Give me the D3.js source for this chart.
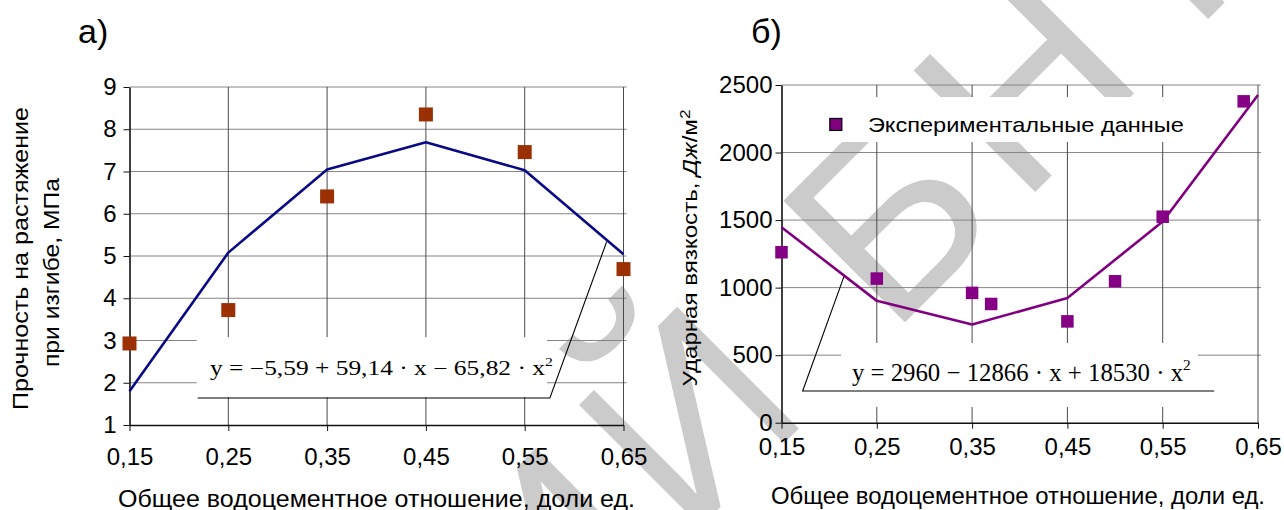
<!DOCTYPE html>
<html>
<head>
<meta charset="utf-8">
<script src="https://cdn.jsdelivr.net/npm/d3@7"></script>
<style>
  body { margin: 0; background: #fff; }
  text { font-family: "Liberation Sans", Arial, sans-serif; fill: #000; }
  .eq { font-family: "Liberation Serif", "Times New Roman", serif; }
</style>
</head>
<body>
<script>
var width = 1284,
    height = 510;

// x values (water-cement ratio) shared by both panels
var xTicks = [0.15, 0.25, 0.35, 0.45, 0.55, 0.65];

// panel а) flexural tensile strength, MPa
var strengthTicks = [1, 2, 3, 4, 5, 6, 7, 8, 9];
var strengthX = [0.15, 0.25, 0.35, 0.45, 0.55, 0.65];
var strengthExp = [2.93, 3.72, 6.41, 8.35, 7.46, 4.69];
var strengthFit = [1.80, 5.08, 7.05, 7.69, 7.03, 5.04];

// panel б) impact toughness, J/m2
var toughTicks = [0, 500, 1000, 1500, 2000, 2500];
var toughX = [0.15, 0.25, 0.35, 0.37, 0.45, 0.50, 0.55, 0.635];
var toughExp = [1262, 1067, 961, 879, 750, 1047, 1525, 2379];
var toughFitX = [0.15, 0.25, 0.35, 0.45, 0.55, 0.65];
var toughFit = [1447, 902, 727, 923, 1489, 2426];

var svg = d3.select("body").append("svg")
    .attr("width", width)
    .attr("height", height);

var fmtX = function(d) { return d3.format(".2f")(d).replace(".", ","); };

// watermark of the repository, sits behind everything
var wmSize = 250, wmAngle = -45;
var wm = svg.append("text")
    .attr("font-size", wmSize)
    .attr("letter-spacing", 20)
    .style("fill", "#cbcbcb")
    .text("РЕПОЗИТОРИЙ БНТУ");
(function() {
  var node = wm.node(),
      str = "РЕПОЗИТОРИЙ БНТУ",
      i = str.indexOf("Б"),
      px = node.getSubStringLength(0, i) + (node.getSubStringLength(i, 1) - 20) / 2,
      py = -0.36 * wmSize,
      a = wmAngle * Math.PI / 180,
      tx = 885 - (px * Math.cos(a) - py * Math.sin(a)),
      ty = 215 - (px * Math.sin(a) + py * Math.cos(a));
  wm.attr("transform", "translate(" + tx + "," + ty + ")rotate(" + wmAngle + ")");
})();

function panel(cfg) {
  var g = svg.append("g");
  var x = d3.scaleLinear().domain([0.15, 0.65]).range(cfg.xr),
      y = d3.scaleLinear().domain(cfg.yd).range(cfg.yr);

  // grid
  g.selectAll(".hgrid")
      .data(cfg.yTicks.slice(1))
    .enter().append("line")
      .attr("x1", x(0.15)).attr("x2", x(0.65) + 3)
      .attr("y1", y).attr("y2", y)
      .style("stroke", "#858585").style("stroke-width", 1);
  g.selectAll(".vgrid")
      .data(xTicks.slice(1))
    .enter().append("line")
      .attr("x1", x).attr("x2", x)
      .attr("y1", y(cfg.yd[1])).attr("y2", y(cfg.yd[0]))
      .style("stroke", "#4a4a4a").style("stroke-width", 1);

  // white boxes over the grid (equation, legend)
  cfg.boxes.forEach(function(b) {
    g.append("rect")
        .attr("x", x(b[0])).attr("y", y(b[3]))
        .attr("width", x(b[1]) - x(b[0]))
        .attr("height", y(b[2]) - y(b[3]))
        .style("fill", "#fff");
  });

  // axes
  var ax = g.append("g")
      .attr("transform", "translate(0," + y(cfg.yd[0]) + ")")
      .call(d3.axisBottom(x).tickValues(xTicks).tickFormat(fmtX)
        .tickSize(6).tickSizeOuter(0).tickPadding(cfg.xPad));
  var ay = g.append("g")
      .attr("transform", "translate(" + x(0.15) + ",0)")
      .call(d3.axisLeft(y).tickValues(cfg.yTicks).tickFormat(d3.format("d"))
        .tickSize(6).tickSizeOuter(0).tickPadding(cfg.yPad));
  [ax, ay].forEach(function(a) {
    a.select(".domain").style("stroke", "#111").style("stroke-width", 1.6);
    a.selectAll(".tick line").style("stroke", "#111");
    a.selectAll(".tick text")
        .style("font-family", "Liberation Sans, Arial, sans-serif")
        .style("font-size", "24px").style("fill", "#000");
  });

  // fitted curve
  g.append("path")
      .datum(cfg.fitX.map(function(d, i) { return [d, cfg.fitY[i]]; }))
      .attr("d", d3.line().x(function(d) { return x(d[0]); }).y(function(d) { return y(d[1]); }))
      .style("fill", "none")
      .style("stroke", cfg.lineColor)
      .style("stroke-width", 2.6)
      .style("stroke-linejoin", "round");

  // experimental points
  g.selectAll(".pt")
      .data(cfg.expX.map(function(d, i) { return [d, cfg.expY[i]]; }))
    .enter().append("rect")
      .attr("x", function(d) { return x(d[0]) - cfg.ms / 2; })
      .attr("y", function(d) { return y(d[1]) - cfg.ms / 2; })
      .attr("width", cfg.ms).attr("height", cfg.ms)
      .style("fill", cfg.markColor);

  // equation with its underline and leader line
  var e = cfg.eq,
      uy = y(e.under[2]),
      x0 = x(e.under[0]), x1 = x(e.under[1]),
      lx = x(e.lead[0]), ly = y(e.lead[1]);
  var d = e.leadFromLeft
      ? "M" + lx + "," + ly + "L" + x0 + "," + uy + "H" + x1
      : "M" + x0 + "," + uy + "H" + x1 + "L" + lx + "," + ly;
  g.append("path")
      .attr("d", d)
      .style("fill", "none").style("stroke", "#000").style("stroke-width", 1.1);
  var t = g.append("text")
      .attr("class", "eq")
      .attr("x", x(e.x0)).attr("y", y(e.base))
      .attr("font-size", e.size)
      .attr("textLength", x(e.x1) - x(e.x0))
      .attr("lengthAdjust", "spacingAndGlyphs");
  t.append("tspan").text(e.text);
  t.append("tspan").attr("dy", -e.size * 0.45).attr("font-size", e.size * 0.62).text("2");

  return {x: x, y: y, g: g};
}

// panel а)
var pa = panel({
  xr: [129.5, 623.5], yd: [1, 9], yr: [425, 87],
  yTicks: strengthTicks, xPad: 17, yPad: 7,
  fitX: strengthX, fitY: strengthFit, expX: strengthX, expY: strengthExp,
  lineColor: "#0a0a86", markColor: "#9c3005", ms: 14,
  boxes: [[0.218, 0.5725, 1.66, 3.08]],
  eq: {
    text: "y = −5,59 + 59,14 · x − 65,82 · x",
    x0: 0.2315, x1: 0.5785, base: 2.18, size: 20,
    under: [0.219, 0.5755, 1.64], lead: [0.633, 5.34], leadFromLeft: false
  }
});

// panel б)
var pb = panel({
  xr: [781.5, 1258], yd: [0, 2500], yr: [422.7, 85],
  yTicks: toughTicks, xPad: 9, yPad: 3,
  fitX: toughFitX, fitY: toughFit, expX: toughX, expY: toughExp,
  lineColor: "#800080", markColor: "#850085", ms: 12.5,
  boxes: [[0.2124, 0.5868, 116, 590], [0.185, 0.589, 2078, 2411]],
  eq: {
    text: "y = 2960 − 12866 · x + 18530 · x",
    x0: 0.2239, x1: 0.5794, base: 309, size: 25,
    under: [0.1722, 0.604, 235], lead: [0.2155, 1081], leadFromLeft: true
  }
});

// legend of panel б)
pb.g.append("rect")
    .attr("x", pb.x(0.207) - 6).attr("y", pb.y(2208) - 6)
    .attr("width", 12).attr("height", 12)
    .style("fill", "#800080").style("stroke", "#000").style("stroke-width", 1.2);
pb.g.append("text")
    .attr("x", pb.x(0.2407)).attr("y", pb.y(2208) + 7.5)
    .attr("font-size", 21)
    .attr("textLength", 316).attr("lengthAdjust", "spacingAndGlyphs")
    .text("Экспериментальные данные");

// panel letters
svg.append("text").attr("x", 78).attr("y", 43).attr("font-size", 34).text("а)");
svg.append("text").attr("x", 751).attr("y", 43).attr("font-size", 34).text("б)");

// axis titles
svg.append("text")
    .attr("x", 118).attr("y", 507).attr("font-size", 23)
    .attr("textLength", 517).attr("lengthAdjust", "spacingAndGlyphs")
    .text("Общее водоцементное отношение, доли ед.");
svg.append("text")
    .attr("x", 771).attr("y", 504).attr("font-size", 23)
    .attr("textLength", 494).attr("lengthAdjust", "spacingAndGlyphs")
    .text("Общее водоцементное отношение, доли ед.");

svg.append("text")
    .attr("transform", "translate(28,258.5)rotate(-90)")
    .attr("text-anchor", "middle").attr("font-size", 22)
    .attr("textLength", 303).attr("lengthAdjust", "spacingAndGlyphs")
    .text("Прочность на растяжение");
svg.append("text")
    .attr("transform", "translate(58.5,272.5)rotate(-90)")
    .attr("text-anchor", "middle").attr("font-size", 22)
    .attr("textLength", 189).attr("lengthAdjust", "spacingAndGlyphs")
    .text("при изгибе, МПа");

var yl = svg.append("text")
    .attr("transform", "translate(697,248)rotate(-90)")
    .attr("text-anchor", "middle").attr("font-size", 21)
    .attr("textLength", 277).attr("lengthAdjust", "spacingAndGlyphs");
yl.append("tspan").text("Ударная вязкость, ");
yl.append("tspan").style("font-style", "italic").text("Дж");
yl.append("tspan").text("/м");
yl.append("tspan").attr("dy", -7).attr("font-size", 15).text("2");
</script>
</body>
</html>
